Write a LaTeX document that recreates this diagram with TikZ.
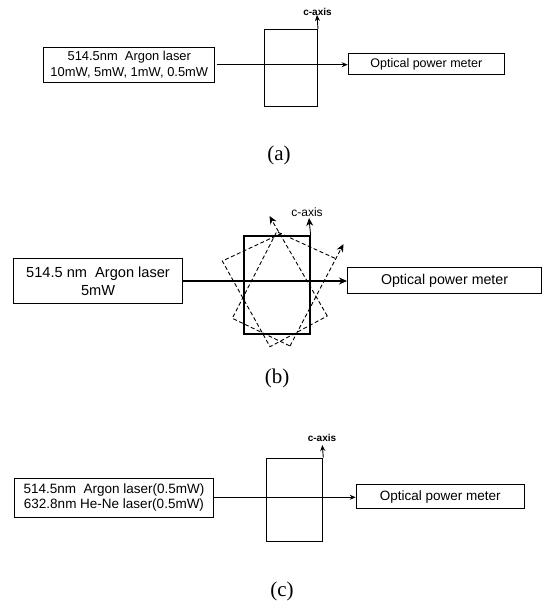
\documentclass[tikz,border=0pt]{standalone}
\usepackage{fontspec}
\setmainfont{Liberation Sans}
\newfontfamily\capfont{Liberation Serif}
\usetikzlibrary{arrows.meta}
\tikzset{
  x=1pt,y=-1pt,
  boxa/.style={draw,line width=1pt,inner sep=0pt,align=center,anchor=north west},
  crystal/.style={draw,line width=1pt,inner sep=0pt,anchor=north west},
  beam/.style={line width=1pt,-{Stealth[length=6pt,width=5pt]}},
  axisline/.style={line width=0.9pt,-{Stealth[length=6pt,width=5pt]}},
  dashrect/.style={dashed,dash pattern=on 4pt off 2.5pt,line width=0.9pt},
  dasharrow/.style={dashed,dash pattern=on 4pt off 2.5pt,line width=0.9pt,-{Stealth[length=8pt,width=7pt]}},
  captext/.style={font=\capfont\fontsize{21}{23}\selectfont,inner sep=0pt},
  smalltxt/.style={font=\fontsize{10}{11}\selectfont\bfseries,inner sep=0pt},
}
\begin{document}
\begin{tikzpicture}
\useasboundingbox (0,0) rectangle (549,603);
% (a)
\node[boxa,minimum width=171pt,minimum height=35pt,font=\fontsize{12.9}{15.5}\selectfont] (lasera) at (43.3,46.7) {514.5nm\ \ Argon laser\\10mW, 5mW, 1mW, 0.5mW};
\node[crystal,minimum width=52.7pt,minimum height=76.7pt] (crysa) at (264.3,29) {};
\node[boxa,minimum width=156.3pt,minimum height=21pt,font=\fontsize{12.5}{14}\selectfont] (metera) at (347.7,53.3) {Optical power meter};
\coordinate (starta) at (216.7,64.7);
\coordinate (tipa) at (317,15);
\node[smalltxt] (caxisa) at (317.5,11.5) {c-axis};
\draw[beam] (starta) -- (metera.west |- starta);
\draw[axisline] (crysa.north east) -- (tipa);
\node[captext] (capa) at (279,155) {(a)};
% (b)
\node[boxa,line width=1.1pt,minimum width=168.4pt,minimum height=45pt,font=\fontsize{14.6}{18.5}\selectfont] (laserb) at (13.3,258) {514.5 nm\ \ Argon laser\\5mW};
\node[crystal,line width=1.6pt,minimum width=66pt,minimum height=98pt] (crysb) at (243,235) {};
\node[boxa,line width=1.1pt,minimum width=194pt,minimum height=26.6pt,font=\fontsize{14.2}{16}\selectfont] (meterb) at (347,266.7) {Optical power meter};
\coordinate (startb) at (183,281);
\coordinate (tipb) at (309,218);
\node[font=\fontsize{12}{13}\selectfont,inner sep=0pt] (caxisb) at (307,212) {c-axis};
\draw[line width=1.1pt,-{Stealth[length=8pt,width=7pt]}] (startb) -- (meterb.west |- startb);
\draw[line width=0.9pt,-{Stealth[length=8pt,width=7pt]}] (crysb.north east) -- (tipb);
\coordinate (r1) at (335,258.3);
\coordinate (r2) at (276.7,231.7);
\coordinate (r3) at (232.3,318.3);
\coordinate (r4) at (290,346);
\coordinate (rtip) at (343.5,244);
\coordinate (l1) at (222.3,261);
\coordinate (l2) at (281.7,233.3);
\coordinate (l3) at (327.3,316);
\coordinate (l4) at (270,346.7);
\coordinate (ltip) at (269.5,216);
\draw[dashrect] (r1) -- (r2) -- (r3) -- (r4);
\draw[dasharrow] (r4) -- (rtip);
\draw[dashrect] (l2) -- (l1) -- (l4) -- (l3);
\draw[dasharrow] (l3) -- (ltip);
\node[captext] (capb) at (277,378) {(b)};
% (c)
\node[boxa,minimum width=199pt,minimum height=38.7pt,font=\fontsize{13.5}{15}\selectfont] (laserc) at (14,478) {514.5nm\ \ Argon laser(0.5mW)\\632.8nm He-Ne laser(0.5mW)};
\node[crystal,minimum width=56.3pt,minimum height=83.3pt] (crysc) at (266,457.7) {};
\node[boxa,minimum width=168.3pt,minimum height=24pt,font=\fontsize{13.5}{15}\selectfont] (meterc) at (355.7,484.3) {Optical power meter};
\coordinate (startc) at (laserc.east |- 0,497.3);
\coordinate (tipc) at (322.3,445);
\node[smalltxt] (caxisc) at (322,438) {c-axis};
\draw[beam] (startc) -- (meterc.west |- startc);
\draw[axisline] (crysc.north east) -- (tipc);
\node[captext] (capc) at (282,591) {(c)};
\end{tikzpicture}
\end{document}
